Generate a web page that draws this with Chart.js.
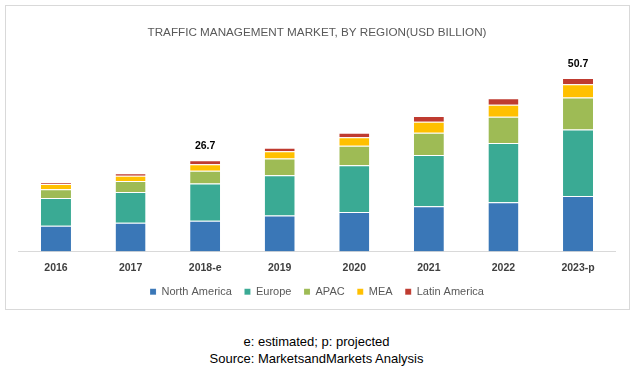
<!DOCTYPE html>
<html>
<head>
<meta charset="utf-8">
<script src="https://cdn.jsdelivr.net/npm/chart.js@4.4.1/dist/chart.umd.min.js"></script>
<style>
  body { margin: 0; background: #fff; width: 633px; height: 370px; position: relative; overflow: hidden; }
  #box { position: absolute; left: 5px; top: 5px; width: 623px; height: 303px; border: 1px solid #d9d9d9; }
  #notes { position: absolute; left: 0; top: 333px; width: 633px; text-align: center;
           font: 13px "Liberation Sans", Arial, sans-serif; line-height: 17px; color: #000; }
</style>
</head>
<body>
<div id="box"><canvas id="chart" width="623" height="303"></canvas></div>
<div id="notes">e: estimated; p: projected<br>Source: MarketsandMarkets Analysis</div>
<script>
const years = ['2016', '2017', '2018-e', '2019', '2020', '2021', '2022', '2023-p'];

const northAmerica = [7.5, 8.4, 9.0, 10.5, 11.5, 13.2, 14.4, 16.2];
const europe       = [8.1, 9.0, 10.9, 11.8, 13.7, 15.0, 17.3, 19.5];
const apac         = [2.6, 3.2, 3.7, 4.9, 5.7, 6.5, 7.7, 9.3];
const mea          = [1.5, 1.5, 1.9, 2.1, 2.5, 3.2, 3.5, 3.9];
const latinAmerica = [0.5, 0.8, 1.2, 1.0, 1.3, 1.7, 1.9, 1.8];

// totals printed above the bars (only two are labelled in the source)
const totalLabels = [null, null, '26.7', null, null, null, null, '50.7'];

const font = '"Liberation Sans", Arial, sans-serif';

function series(label, data, color) {
  return {
    label: label,
    data: data,
    backgroundColor: color,
    borderColor: 'rgba(255,255,255,0.45)',
    borderWidth: { top: 1, right: 0, bottom: 0, left: 0 },
    borderSkipped: false,
    barPercentage: 0.402,
    categoryPercentage: 1
  };
}

// draws the total labels above the stacks
const totalsPlugin = {
  id: 'totals',
  afterDatasetsDraw(chart) {
    const ctx = chart.ctx;
    const y = chart.scales.y;
    const meta = chart.getDatasetMeta(0);
    ctx.save();
    ctx.font = 'bold 10.5px ' + font;
    ctx.fillStyle = '#000';
    ctx.textAlign = 'center';
    ctx.textBaseline = 'middle';
    totalLabels.forEach((txt, i) => {
      if (!txt) return;
      const sum = chart.data.datasets.reduce((s, d) => s + d.data[i], 0);
      ctx.fillText(txt, meta.data[i].x, y.getPixelForValue(sum) - 14);
    });
    ctx.restore();
  }
};

new Chart(document.getElementById('chart'), {
  type: 'bar',
  data: {
    labels: years,
    datasets: [
      series('North America', northAmerica, '#3a77b7'),
      series('Europe', europe, '#3aaa94'),
      series('APAC', apac, '#9ebb55'),
      series('MEA', mea, '#ffc000'),
      series('Latin America', latinAmerica, '#bf3b30')
    ]
  },
  options: {
    responsive: false,
    animation: false,
    devicePixelRatio: 1,
    layout: { padding: { left: 12.7, right: 13.7, top: 0, bottom: 1.8 } },
    plugins: {
      title: {
        display: true,
        text: 'TRAFFIC MANAGEMENT MARKET, BY REGION(USD BILLION)',
        color: '#595959',
        font: { family: font, size: 11.7, weight: 'normal' },
        padding: { top: 20.1, bottom: 6.2 }
      },
      legend: {
        position: 'bottom',
        labels: {
          boxWidth: 6,
          boxHeight: 6,
          padding: 12.6,
          color: '#595959',
          font: { family: font, size: 11 }
        }
      },
      tooltip: { enabled: false }
    },
    scales: {
      x: {
        stacked: true,
        grid: { display: false, drawTicks: false },
        border: { display: true, color: '#d9d9d9', width: 1 },
        ticks: { color: '#404040', padding: 10.3, font: { family: font, size: 10.5, weight: 'bold' } },
        afterFit(scale) { scale.height -= 11; }
      },
      y: {
        stacked: true,
        display: false,
        min: 0,
        max: 60
      }
    }
  },
  plugins: [totalsPlugin]
});
</script>
</body>
</html>
